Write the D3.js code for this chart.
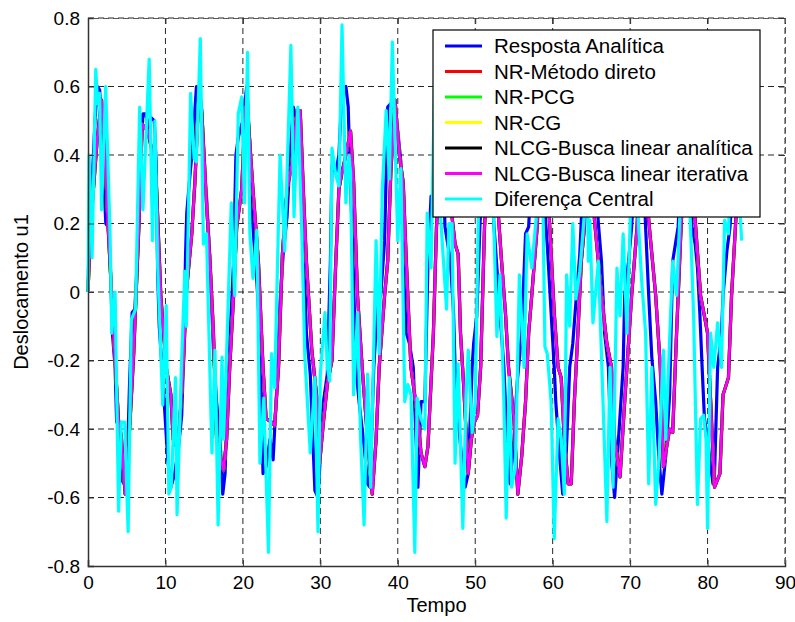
<!DOCTYPE html>
<html><head><meta charset="utf-8">
<script src="https://cdn.jsdelivr.net/npm/d3@7"></script>
<style>body{margin:0;background:#fff}svg{display:block}text{font-family:"Liberation Sans",Arial,Helvetica,sans-serif;fill:#000}</style>
</head><body>
<script>
const xTicks=[0,10,20,30,40,50,60,70,80,90];
const yTicks=[-0.8,-0.6,-0.4,-0.2,0,0.2,0.4,0.6,0.8];
const seriesNames=["Resposta Analítica","NR-Método direto","NR-PCG","NR-CG","NLCG-Busca linear analítica","NLCG-Busca linear iterativa","Diferença Central"];
const seriesColors=["#0000ff","#ff0000","#00ff00","#ffff00","#000000","#ff00ff","#00ffff"];

// [tempo, deslocamento]
const respostaAnalitica=[[0,0],[0.3,0.33],[0.6,0.35],[0.9,0.5],[1.2,0.6],[1.5,0.59],[1.9,0.45],[2.1,0.3],[2.3,0.2],[2.6,0.19],[2.85,0.11],[3.15,-0.12],[3.5,-0.22],[3.7,-0.38],[4.1,-0.38],[4.4,-0.55],[4.9,-0.57],[5.2,-0.4],[5.35,-0.28],[5.7,-0.06],[6.05,-0.05],[6.36,0.09],[6.6,0.25],[6.8,0.4],[7.1,0.52],[7.45,0.52],[7.8,0.48],[8.1,0.51],[8.55,0.5],[8.8,0.38],[9.0,0.05],[9.2,-0.1],[9.7,-0.27],[10.3,-0.49],[10.7,-0.57],[11.2,-0.53],[11.7,-0.45],[12.1,-0.36],[12.3,-0.22],[12.6,0.11],[12.75,0.23],[13.2,0.35],[13.5,0.42],[14.0,0.6],[14.4,0.59],[14.7,0.53],[15.1,0.32],[15.3,0.28],[15.75,0.09],[16.2,-0.17],[16.6,-0.32],[17.05,-0.43],[17.4,-0.59],[17.7,-0.53],[18.1,-0.22],[18.6,-0.01],[18.8,0.09],[19.1,0.4],[19.4,0.45],[19.6,0.47],[20.0,0.5],[20.5,0.6],[20.9,0.43],[21.3,0.19],[21.8,0.03],[22.2,-0.12],[22.6,-0.53],[23.0,-0.51],[23.5,-0.43],[23.9,-0.49],[24.4,-0.27],[24.8,-0.03],[25.2,0.11],[25.7,0.22],[26.1,0.4],[26.5,0.54],[27.0,0.5],[27.4,0.4],[27.8,0.19],[28.2,-0.12],[28.7,-0.24],[29.3,-0.58],[29.7,-0.6],[30.4,-0.32],[30.9,-0.24],[31.3,0.09],[31.5,0.37],[32.0,0.35],[32.4,0.4],[32.8,0.59],[33.3,0.6],[33.6,0.54],[33.9,0.3],[34.1,0.19],[34.6,-0.22],[35.0,-0.32],[35.7,-0.46],[36.1,-0.56],[36.4,-0.57],[36.9,-0.22],[37.4,-0.03],[37.8,-0.01],[38.3,0.15],[38.7,0.54],[39.1,0.55],[39.6,0.53],[40.0,0.47],[40.4,0.38],[40.9,0.09],[41.1,-0.12],[41.5,-0.15],[42.0,-0.22],[42.6,-0.57],[43.0,-0.32],[43.5,-0.32],[43.9,0.09],[44.3,0.28],[44.8,0.25],[45.2,0.45],[45.6,0.55],[46.1,0.19],[46.8,0.09],[47.2,-0.06],[47.4,-0.22],[47.8,-0.37],[48.3,-0.5],[48.7,-0.57],[49.1,-0.53],[49.6,-0.22],[49.8,-0.15],[50.2,-0.07],[50.6,0.19],[51.2,0.45],[51.8,0.55],[52.4,0.2],[52.8,0.07],[53.2,-0.06],[53.7,-0.22],[54.1,-0.43],[54.5,-0.56],[55.0,-0.43],[55.4,-0.27],[56.0,-0.12],[56.5,0.17],[56.9,0.19],[57.5,0.45],[58.2,0.55],[58.8,0.3],[59.3,0.14],[59.8,-0.06],[60.2,-0.22],[60.4,-0.32],[60.9,-0.48],[61.3,-0.59],[61.7,-0.5],[62.2,-0.22],[62.6,-0.15],[63.0,-0.03],[63.5,0.11],[63.7,0.21],[64.3,0.45],[65.0,0.55],[65.9,0.2],[66.3,0.09],[66.7,-0.12],[67.2,-0.22],[67.6,-0.49],[68.0,-0.6],[68.5,-0.43],[69.1,-0.22],[69.3,-0.01],[69.8,0.09],[70.2,0.19],[70.8,0.45],[71.4,0.55],[72.0,0.19],[72.4,-0.01],[72.8,-0.19],[73.3,-0.32],[73.7,-0.48],[74.1,-0.59],[74.6,-0.48],[75.1,-0.3],[75.5,0.09],[76.2,0.19],[76.8,0.45],[77.4,0.55],[78.0,0.19],[78.4,0.14],[78.7,0.07],[79.0,-0.06],[79.3,-0.22],[79.6,-0.37],[80.0,-0.43],[80.7,-0.56],[80.9,-0.53],[81.3,-0.22],[81.8,-0.12],[82.0,-0.01],[82.5,0.12],[82.9,0.19],[83.5,0.4]];

const nlcgIterativa=[[0,0],[0.35,0.2],[0.7,0.3],[1.2,0.45],[1.75,0.56],[2.2,0.4],[2.6,0.19],[3.3,-0.12],[3.95,-0.38],[4.3,-0.42],[4.8,-0.59],[5.3,-0.43],[5.9,-0.18],[6.6,0.21],[7.0,0.49],[7.7,0.47],[8.3,0.41],[8.8,0.33],[9.4,-0.01],[10.1,-0.22],[10.7,-0.3],[11.0,-0.43],[11.6,-0.46],[12.3,-0.22],[12.7,0.0],[13.4,0.17],[13.8,0.32],[14.3,0.57],[14.7,0.52],[15.1,0.35],[15.3,0.26],[15.75,0.09],[16.2,-0.12],[16.6,-0.43],[17.5,-0.52],[17.9,-0.43],[18.3,-0.22],[18.8,-0.01],[19.2,0.19],[19.85,0.3],[20.3,0.54],[20.7,0.5],[21.3,0.3],[22.0,0.09],[22.6,-0.22],[23.0,-0.37],[23.7,-0.38],[24.1,-0.39],[24.6,-0.22],[25.1,0.11],[25.7,0.3],[26.3,0.37],[27.0,0.53],[27.4,0.53],[27.8,0.3],[28.2,0.09],[28.9,-0.17],[29.6,-0.32],[29.9,-0.5],[30.4,-0.38],[30.9,-0.27],[31.5,-0.2],[32.0,0.09],[32.4,0.3],[32.8,0.35],[33.3,0.4],[33.9,0.47],[34.3,0.32],[34.8,-0.01],[35.4,-0.22],[36.1,-0.43],[36.7,-0.59],[37.2,-0.43],[37.6,-0.22],[38.3,-0.01],[38.7,0.09],[39.1,0.35],[39.65,0.56],[40.2,0.4],[40.7,0.32],[41.1,0.09],[41.7,-0.22],[42.6,-0.37],[43.0,-0.47],[43.5,-0.51],[43.9,-0.45],[44.6,-0.12],[45.0,0.19],[45.5,0.4],[46.2,0.55],[47.0,0.22],[47.4,0.14],[47.8,0.11],[48.1,-0.12],[48.5,-0.27],[49.1,-0.53],[49.5,-0.43],[49.9,-0.38],[50.3,-0.36],[50.7,-0.22],[51.2,0.19],[51.8,0.45],[52.4,0.55],[53.0,0.22],[53.4,0.09],[53.9,-0.06],[54.3,-0.22],[55.0,-0.37],[55.5,-0.59],[56.0,-0.48],[56.5,-0.32],[56.9,-0.12],[57.3,-0.01],[58.0,0.19],[58.5,0.45],[59.0,0.5],[59.6,0.2],[60.2,-0.06],[60.7,-0.22],[61.1,-0.25],[61.5,-0.43],[62.0,-0.56],[62.4,-0.56],[62.8,-0.32],[63.3,-0.1],[63.7,0.09],[64.1,0.19],[64.6,0.45],[65.0,0.4],[65.4,0.21],[66.3,-0.01],[67.0,-0.15],[67.6,-0.22],[68.0,-0.43],[68.7,-0.54],[69.3,-0.32],[70.2,-0.01],[70.9,0.19],[71.4,0.45],[71.8,0.45],[72.4,0.21],[73.3,-0.01],[73.9,-0.22],[74.3,-0.51],[75.1,-0.4],[75.5,-0.41],[76.0,-0.12],[76.6,0.2],[77.2,0.45],[77.8,0.45],[78.4,0.21],[79.1,-0.01],[80.0,-0.12],[80.4,-0.32],[80.9,-0.57],[81.6,-0.53],[82.0,-0.3],[82.7,-0.25],[83.1,-0.01],[83.6,0.19],[84.0,0.35]];

const diferencaCentral=[[0,0],[0.15,0.4],[0.53,0.1],[1.0,0.65],[1.25,0.55],[1.5,0.58],[1.75,0.24],[2.28,0.6],[2.85,0.17],[3.07,-0.12],[3.5,0.0],[3.95,-0.64],[4.3,-0.38],[4.74,-0.38],[5.18,-0.7],[5.6,-0.08],[6.14,-0.05],[6.67,0.54],[7.1,0.24],[7.9,0.68],[8.33,0.15],[8.64,0.5],[9.0,0.07],[9.65,-0.33],[10.1,-0.04],[10.44,-0.59],[10.75,-0.57],[11.3,-0.25],[11.5,-0.65],[12.06,-0.22],[12.5,0.06],[12.7,-0.1],[13.25,0.58],[13.7,0.39],[14.0,0.38],[14.5,0.74],[14.9,0.14],[15.3,0.17],[16.0,-0.47],[16.4,-0.17],[16.8,-0.68],[17.3,-0.19],[17.5,-0.43],[17.9,-0.18],[18.5,0.26],[18.95,-0.01],[19.4,0.52],[19.85,0.57],[20.2,0.26],[20.6,0.7],[20.9,0.17],[21.3,0.04],[21.8,0.18],[22.2,-0.5],[22.7,-0.31],[23.3,-0.76],[23.7,-0.18],[24.1,-0.28],[24.8,0.4],[25.4,0.12],[26.2,0.72],[26.6,0.22],[27.1,0.54],[27.6,0.18],[28.0,-0.19],[28.7,-0.47],[29.3,-0.25],[29.7,-0.7],[30.0,-0.24],[30.6,-0.06],[30.9,-0.22],[31.2,-0.26],[31.5,0.42],[32.0,0.34],[32.4,0.31],[32.8,0.78],[33.3,0.26],[33.7,0.4],[33.9,0.35],[34.3,-0.3],[34.8,-0.06],[35.2,-0.43],[35.65,-0.68],[36.1,-0.24],[36.5,-0.57],[37.2,0.15],[37.6,-0.18],[38.0,0.3],[38.5,0.53],[38.9,0.33],[39.3,0.73],[40.0,0.15],[40.4,0.36],[40.9,-0.32],[41.3,-0.27],[41.7,-0.3],[42.2,-0.76],[42.5,-0.31],[43.0,-0.37],[43.5,-0.4],[43.8,0.23],[44.3,0.07],[44.8,0.69],[45.3,0.3],[45.9,0.09],[46.3,-0.05],[46.6,0.2],[47.0,0.2],[47.4,-0.5],[47.8,-0.21],[48.4,-0.69],[48.8,-0.31],[49.1,-0.17],[49.6,-0.41],[50.0,-0.32],[50.4,0.21],[51.0,0.6],[51.5,0.4],[52.0,0.65],[52.4,0.2],[52.8,-0.13],[53.2,0.05],[53.7,-0.32],[54.0,-0.66],[54.4,-0.25],[54.7,-0.57],[55.2,-0.51],[55.7,0.05],[56.3,-0.22],[56.7,0.17],[57.3,0.07],[58.0,0.25],[58.5,0.65],[59.0,-0.16],[59.3,-0.18],[59.8,-0.32],[60.2,-0.72],[60.7,-0.37],[61.1,-0.43],[61.5,-0.59],[61.8,0.05],[62.2,-0.1],[62.6,0.2],[63.0,-0.02],[63.5,0.06],[64.1,0.23],[64.4,0.6],[64.6,0.09],[64.8,0.21],[65.2,-0.09],[65.9,0.09],[66.5,-0.32],[67.0,-0.67],[67.4,-0.22],[67.8,-0.57],[68.3,0.07],[68.7,-0.07],[69.1,0.17],[69.6,-0.12],[70.0,0.2],[70.5,0.65],[71.1,0.19],[71.5,0.03],[72.0,-0.12],[72.4,-0.56],[72.8,-0.22],[73.3,-0.62],[73.7,-0.5],[74.3,-0.17],[74.6,-0.43],[75.1,-0.14],[75.5,0.09],[76.0,-0.01],[76.4,0.21],[77.0,0.65],[77.8,0.19],[78.2,-0.07],[78.7,-0.62],[79.1,-0.37],[79.5,-0.36],[79.8,-0.43],[80.0,-0.69],[80.4,-0.12],[80.8,-0.22],[81.3,-0.09],[81.8,-0.22],[82.2,0.21],[82.7,0.17],[83.2,0.6],[83.8,0.4],[84.4,0.15]];

// NR and NLCG analytic solutions coincide with the iterative NLCG curve (hidden beneath it)
const nrDireto=nlcgIterativa, nrPCG=nlcgIterativa, nrCG=nlcgIterativa, nlcgAnalitica=nlcgIterativa;
const allSeries=[respostaAnalitica,nrDireto,nrPCG,nrCG,nlcgAnalitica,nlcgIterativa,diferencaCentral];

const W=795,H=622, L=88,R=785,T=18,B=566;
const svg=d3.select("body").append("svg").attr("width",W).attr("height",H);
const x=d3.scaleLinear().domain([0,90]).range([L,R]);
const y=d3.scaleLinear().domain([-0.8,0.8]).range([B,T]);

// grid
const g=svg.append("g");
g.selectAll("line.gx").data(xTicks.slice(1)).join("line").attr("x1",d=>x(d)).attr("x2",d=>x(d)).attr("y1",T).attr("y2",B)
 .attr("stroke","#000").attr("stroke-width",1).attr("stroke-dasharray","6,4").attr("stroke-opacity",0.85);
g.selectAll("line.gy").data(yTicks.slice(1)).join("line").attr("y1",d=>y(d)).attr("y2",d=>y(d)).attr("x1",L).attr("x2",R)
 .attr("stroke","#000").attr("stroke-width",1).attr("stroke-dasharray","6,4").attr("stroke-opacity",0.85);

// lines
const line=d3.line().x(d=>x(d[0])).y(d=>y(d[1]));
const widths=[3.2,3.2,3.2,3.2,3.2,2.8,3.2];
allSeries.forEach((s,i)=>{
  svg.append("path").datum(s).attr("d",line).attr("fill","none").attr("stroke",seriesColors[i])
   .attr("stroke-width",widths[i]).attr("stroke-linejoin","round");
});

// axes
const fs="19px";
const ax=svg.append("g").attr("transform",`translate(0,${B})`).call(d3.axisBottom(x).tickValues(xTicks).tickSize(-6).tickPadding(10).tickFormat(d3.format("d")));
const ay=svg.append("g").attr("transform",`translate(${L},0)`).call(d3.axisLeft(y).tickValues(yTicks).tickSize(-6).tickPadding(8).tickFormat(d=>d===0?"0":d3.format(".1f")(d).replace("−","-")));
const axT=svg.append("g").attr("transform",`translate(0,${T})`).call(d3.axisTop(x).tickValues(xTicks).tickSize(-6).tickFormat(""));
const ayR=svg.append("g").attr("transform",`translate(${R},0)`).call(d3.axisRight(y).tickValues(yTicks).tickSize(-6).tickFormat(""));
[ax,ay].forEach(a=>{a.select(".domain").attr("stroke","#333").attr("stroke-width",1.5);a.selectAll(".tick line").attr("stroke","#333");a.selectAll("text").style("font-size",fs).attr("fill","#000");});
[axT,ayR].forEach(a=>{a.select(".domain").attr("stroke","#555").attr("stroke-dasharray","6,4");a.selectAll(".tick line").attr("stroke","#333");});

svg.append("text").attr("x",(L+R)/2).attr("y",612).attr("text-anchor","middle").style("font-size","20px").text("Tempo");
svg.append("text").attr("transform",`translate(28,${(T+B)/2}) rotate(-90)`).attr("text-anchor","middle").style("font-size","20px").text("Deslocamento u1");

// legend
const lg=svg.append("g");
lg.append("rect").attr("x",433).attr("y",30).attr("width",327).attr("height",187).attr("fill","#fff").attr("stroke","#000").attr("stroke-width",1.2);
seriesNames.forEach((n,i)=>{
  const yy=46+i*25.5;
  lg.append("line").attr("x1",445).attr("x2",482).attr("y1",yy).attr("y2",yy).attr("stroke",seriesColors[i]).attr("stroke-width",3);
  lg.append("text").attr("x",494).attr("y",yy).attr("dy","0.35em").style("font-size","20.5px").text(n);
});
</script>
</body></html>
